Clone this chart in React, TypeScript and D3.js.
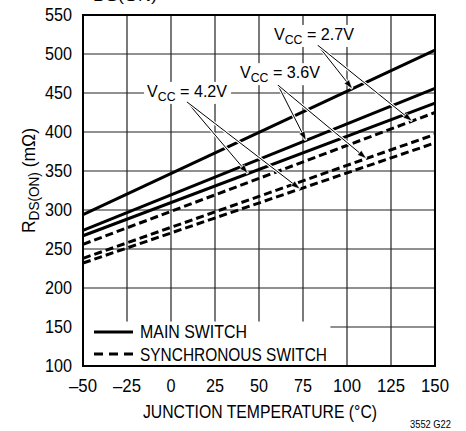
import React from 'react';
import { scaleLinear, line } from 'd3';

const width = 466;
const height = 431;
const margin = { top: 15, right: 31, bottom: 65, left: 83 };
const font = '"Liberation Sans", Arial, sans-serif';

// junction temperature (°C) and RDS(ON) (mΩ)
const temps = [-50, 150];
const main27 = [294, 505];
const main36 = [274, 456];
const main42 = [267, 437];
const sync27 = [256, 425];
const sync36 = [238, 397];
const sync42 = [232, 386];

const xTicks = [-50, -25, 0, 25, 50, 75, 100, 125, 150];
const yTicks = [100, 150, 200, 250, 300, 350, 400, 450, 500, 550];

const series = [
  { name: 'main27', values: main27, dashed: false },
  { name: 'main36', values: main36, dashed: false },
  { name: 'main42', values: main42, dashed: false },
  { name: 'sync27', values: sync27, dashed: true },
  { name: 'sync36', values: sync36, dashed: true },
  { name: 'sync42', values: sync42, dashed: true },
];

// labels: text anchor (temp, value), arrow origin, arrow targets on series
const labels = [
  { text: '2.7V', at: [58.5, 518], from: [83.5, 511], to: [[main27, 103], [sync27, 137]] },
  { text: '3.6V', at: [39.2, 469], from: [60.8, 460], to: [[main36, 76.7], [sync36, 111]] },
  { text: '4.2V', at: [-13.6, 445], from: [9.1, 438.5], to: [[main42, 43.7], [sync42, 73.3]] },
];

const xScale = scaleLinear().domain([-50, 150]).range([margin.left, width - margin.right]);
const yScale = scaleLinear().domain([100, 550]).range([height - margin.bottom, margin.top]);

const valueAt = (vals: number[], t: number) =>
  scaleLinear().domain(temps).range(vals)(t);

const path = line<number>()
  .x((_, i) => xScale(temps[i]))
  .y((d) => yScale(d));

const Arrow = ({ x1, y1, x2, y2 }: { x1: number; y1: number; x2: number; y2: number }) => {
  const a = Math.atan2(y2 - y1, x2 - x1);
  const len = 9, w = 3;
  const bx = x2 - len * Math.cos(a), by = y2 - len * Math.sin(a);
  const p1 = [bx + w * Math.sin(a), by - w * Math.cos(a)];
  const p2 = [bx - w * Math.sin(a), by + w * Math.cos(a)];
  return (
    <g>
      <line x1={x1} y1={y1} x2={x2} y2={y2} stroke="white" strokeWidth={3} />
      <line x1={x1} y1={y1} x2={bx} y2={by} stroke="black" strokeWidth={1} />
      <polygon points={`${x2},${y2} ${p1[0]},${p1[1]} ${p2[0]},${p2[1]}`} fill="black" stroke="white" strokeWidth={0.5} />
    </g>
  );
};

export default function App() {
  const x0 = xScale(-50), x1 = xScale(150);
  const y0 = yScale(100), y1 = yScale(550);
  return (
    <svg width={width} height={height} style={{ position: 'absolute', left: 0, top: 0, fontFamily: font }}>
      <rect width={width} height={height} fill="white" />
      <text x={93} y={1} fontSize={15} textLength={64} lengthAdjust="spacingAndGlyphs">DS(ON)</text>

      {/* grid */}
      {xTicks.map((t) => (
        <line key={'gx' + t} x1={xScale(t)} x2={xScale(t)} y1={y0} y2={y1} stroke="#222" strokeWidth={1.2} />
      ))}
      {yTicks.map((v) => (
        <line key={'gy' + v} x1={x0} x2={x1} y1={yScale(v)} y2={yScale(v)} stroke="#222" strokeWidth={1.2} />
      ))}

      {/* data */}
      {series.map((s) => (
        <path
          key={s.name}
          d={path(s.values) || ''}
          fill="none"
          stroke="black"
          strokeWidth={3}
          strokeDasharray={s.dashed ? '8 4' : undefined}
        />
      ))}

      {/* annotations */}
      {labels.map((l) => {
        const lx = xScale(l.at[0]), ly = yScale(l.at[1]);
        const ox = xScale(l.from[0]), oy = yScale(l.from[1]);
        return (
          <g key={l.text}>
            <rect x={lx - 3} y={ly - 15} width={87} height={22} fill="white" />
            {l.to.map(([vals, t], i) => (
              <Arrow key={i} x1={ox} y1={oy} x2={xScale(t as number)} y2={yScale(valueAt(vals as number[], t as number))} />
            ))}
            <text x={lx} y={ly} fontSize={17} textLength={80} lengthAdjust="spacingAndGlyphs">
              V<tspan fontSize={13} dy={4}>CC</tspan>
              <tspan dy={-4}> = {l.text}</tspan>
            </text>
          </g>
        );
      })}

      {/* legend */}
      <rect x={x0 + 1} y={yScale(157)} width={xScale(90) - x0} height={y0 - yScale(157) - 1} fill="white" />
      <line x1={94} x2={133} y1={332} y2={332} stroke="black" strokeWidth={3} />
      <line x1={94} x2={133} y1={354} y2={354} stroke="black" strokeWidth={3} strokeDasharray="9 6" />
      <text x={140} y={338} fontSize={18} textLength={107} lengthAdjust="spacingAndGlyphs">MAIN SWITCH</text>
      <text x={140} y={361} fontSize={18} textLength={187} lengthAdjust="spacingAndGlyphs">SYNCHRONOUS SWITCH</text>

      {/* frame */}
      <rect x={x0} y={y1} width={x1 - x0} height={y0 - y1} fill="none" stroke="black" strokeWidth={2} />

      {/* axes labels */}
      {yTicks.map((v) => (
        <text key={'ty' + v} x={72} y={yScale(v) + 6} fontSize={18} textAnchor="end" textLength={27} lengthAdjust="spacingAndGlyphs">{v}</text>
      ))}
      {xTicks.map((t) => (
        <text key={'tx' + t} x={xScale(t)} y={392} fontSize={18} textAnchor="middle"
          textLength={t < 0 || t >= 100 ? 28 : t === 0 ? 9 : 18} lengthAdjust="spacingAndGlyphs">
          {t < 0 ? '\u2013' + Math.abs(t) : t}
        </text>
      ))}
      <text x={143} y={418} fontSize={18} textLength={234} lengthAdjust="spacingAndGlyphs">JUNCTION TEMPERATURE (°C)</text>
      <text transform="translate(35,233) rotate(-90)" fontSize={18} textLength={105} lengthAdjust="spacingAndGlyphs">
        R<tspan fontSize={14} dy={4}>DS(ON)</tspan>
        <tspan dy={-4}> (mΩ)</tspan>
      </text>
      <text x={410} y={428} fontSize={10} textLength={41} lengthAdjust="spacingAndGlyphs">3552 G22</text>
    </svg>
  );
}
